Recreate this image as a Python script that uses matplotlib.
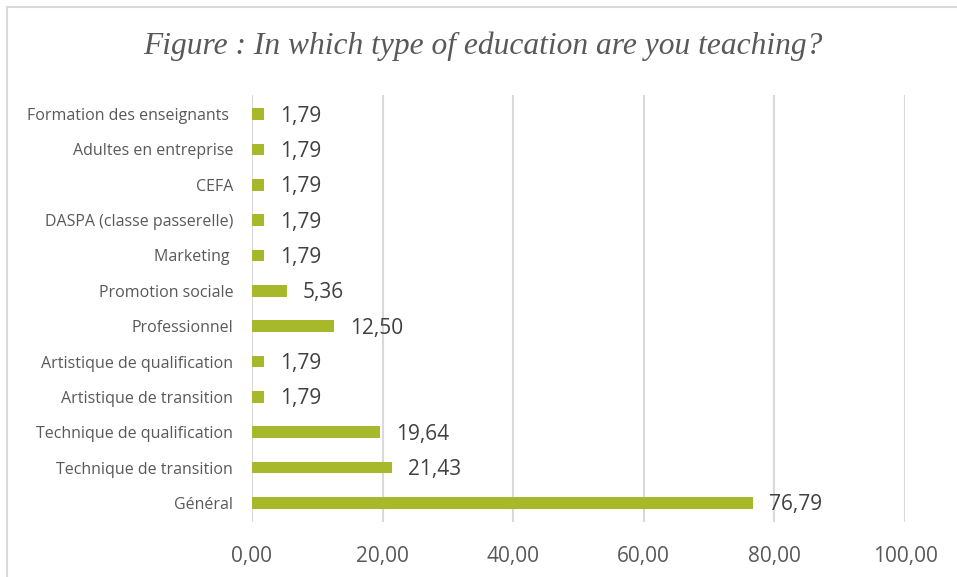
import matplotlib.pyplot as plt
from matplotlib.patches import Rectangle

categories = ["Général", "Technique de transition", "Technique de qualification",
              "Artistique de transition", "Artistique de qualification", "Professionnel",
              "Promotion sociale", "Marketing ", "DASPA (classe passerelle)", "CEFA",
              "Adultes en entreprise", "Formation des enseignants "]
values = [76.79, 21.43, 19.64, 1.79, 1.79, 12.50, 5.36, 1.79, 1.79, 1.79, 1.79, 1.79]
xticks = [0, 20, 40, 60, 80, 100]

def fr(v):
    return f"{v:.2f}".replace(".", ",")

fig = plt.figure(figsize=(9.57, 5.77), dpi=100)
fig.patches.append(Rectangle((7 / 957, -0.1), 1.2, 1 - 7 / 577 + 0.1, transform=fig.transFigure,
                             fill=False, edgecolor="#D9D9D9", linewidth=1.5, zorder=-5))

ax = fig.add_axes([252 / 957, 1 - 522 / 577, 653 / 957, 427 / 577])
ypos = list(range(len(categories)))
ax.barh(ypos, values, height=0.33, color="#A7B82A", zorder=3)

for y, v in zip(ypos, values):
    ax.annotate(fr(v), (v, y), xytext=(11.5, -1.5), textcoords="offset points",
                ha="left", va="center", fontsize=15, family="Open Sans", color="#404040")

ax.set_xlim(0, 100)
ax.set_ylim(-0.54, 11.54)
ax.set_xticks(xticks)
ax.set_xticklabels([fr(t) for t in xticks], fontsize=15, family="Open Sans", color="#595959")
ax.set_yticks(ypos)
ax.set_yticklabels(categories, fontsize=11.5, family="Open Sans", color="#595959")
ax.tick_params(axis="x", length=0, pad=17)
ax.tick_params(axis="y", length=0, pad=13.5)
ax.grid(axis="x", color="#D9D9D9", linewidth=1.5, zorder=0)
ax.set_axisbelow(True)
for s in ax.spines.values():
    s.set_visible(False)

fig.text(483 / 957, 1 - 46 / 577, "Figure : In which type of education are you teaching?",
         ha="center", va="center", fontsize=22.7, family="Liberation Serif", style="italic",
         color="#595959")

fig.savefig("out.png", dpi=100)
